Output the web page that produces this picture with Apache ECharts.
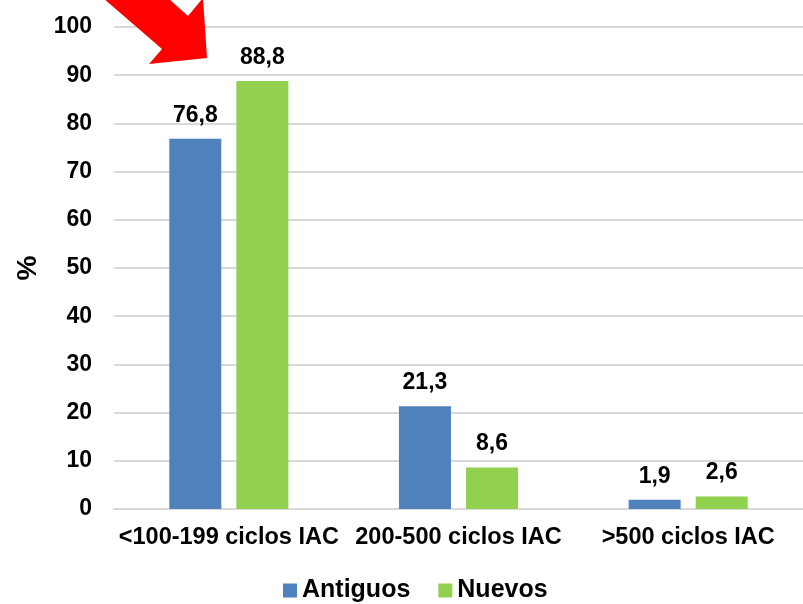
<!DOCTYPE html>
<html>
<head>
<meta charset="utf-8">
<script src="https://cdn.jsdelivr.net/npm/echarts@6/dist/echarts.min.js"></script>
<style>
  html, body { margin: 0; padding: 0; background: #fff; }
  #chart { width: 803px; height: 604px; }
</style>
</head>
<body>
<div id="chart"></div>
<script>
// categorias y valores (%)
const categories = ['<100-199 ciclos IAC', '200-500 ciclos IAC', '>500 ciclos IAC'];
const antiguos = [76.8, 21.3, 1.9];
const nuevos = [88.8, 8.6, 2.6];
const seriesNames = ['Antiguos', 'Nuevos'];

const font = 'Liberation Sans, Arial, sans-serif';
const fmt = (p) => String(p.value).replace('.', ',');

const chart = echarts.init(document.getElementById('chart'));

const labelStyle = {
    show: true, position: 'top', distance: 12, formatter: fmt,
    fontSize: 23, fontWeight: 'bold', color: '#000', fontFamily: font,
};

const options = {
    animation: false,
    textStyle: { fontFamily: font },
    grid: { left: 114, right: -2, top: 27, bottom: 95 },
    legend: {
        top: 573,
        left: 278,
        icon: 'rect',
        itemWidth: 14,
        itemHeight: 14,
        itemGap: 28,
        textStyle: { fontSize: 25, fontWeight: 'bold', color: '#000', fontFamily: font },
        data: seriesNames,
    },
    xAxis: {
        type: 'category',
        data: categories,
        axisLine: { lineStyle: { color: '#d9d9d9', width: 2 } },
        axisTick: { show: false },
        axisLabel: { interval: 0, hideOverlap: false, fontSize: 23.5, fontWeight: 'bold',
                     color: '#000', margin: 17, fontFamily: font },
    },
    yAxis: {
        type: 'value',
        min: 0,
        max: 100,
        interval: 10,
        name: '%',
        nameLocation: 'middle',
        nameGap: 70,
        nameTextStyle: { fontSize: 28, fontWeight: 'bold', color: '#000', fontFamily: font },
        axisLine: { show: false },
        axisTick: { show: false },
        axisLabel: { fontSize: 23, fontWeight: 'bold', color: '#000', margin: 22, fontFamily: font },
        splitLine: { lineStyle: { color: '#d9d9d9', width: 2 } },
    },
    series: [
        {
            name: seriesNames[0],
            type: 'bar',
            data: antiguos,
            barWidth: 52,
            barGap: '29%',
            itemStyle: { color: '#4f81bd' },
            label: labelStyle,
        },
        {
            name: seriesNames[1],
            type: 'bar',
            data: nuevos,
            barWidth: 52,
            barGap: '29%',
            itemStyle: { color: '#92d050' },
            label: labelStyle,
        },
    ],
    // flecha roja de anotacion
    graphic: [
        {
            type: 'polygon',
            shape: {
                points: [[103, -2], [168, -2], [188, 16], [203, -2], [207, 58], [149, 64], [162, 49]],
            },
            style: { fill: '#ff0000' },
            z: 10,
        },
    ],
};

chart.setOption(options);
</script>
</body>
</html>
